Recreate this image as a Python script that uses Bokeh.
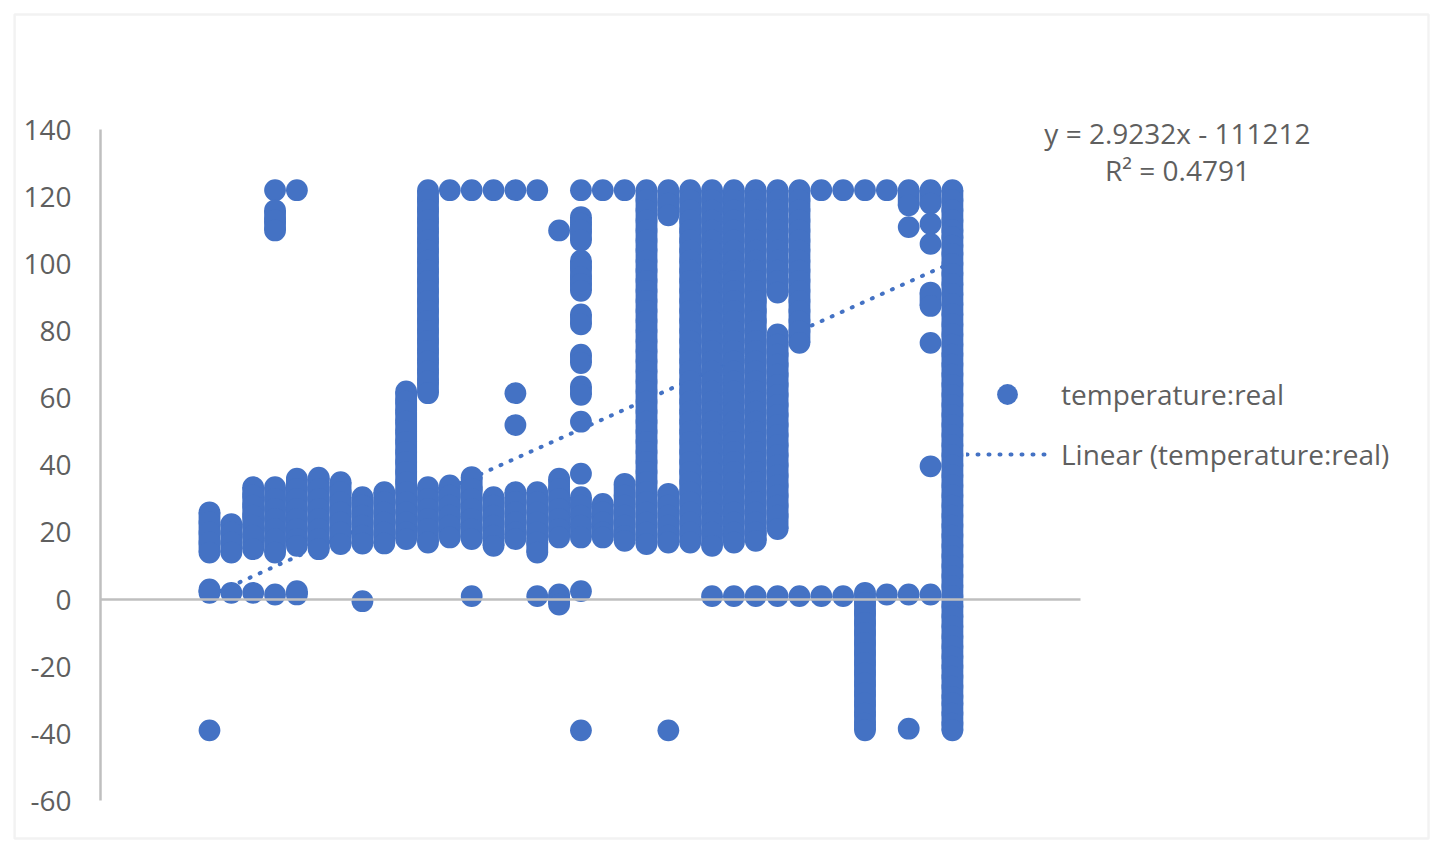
from bokeh.embed import file_html
from bokeh.resources import INLINE
from bokeh.plotting import figure
from bokeh.models import ColumnDataSource, Range1d, FixedTicker, BoxAnnotation, Label, Legend, LegendItem

FIRST_DAY = 38045
d00 = [26, 23, 20, 17, 14, 3, 2, -39]
d01 = [22.5, 20, 17, 14, 2]
d02 = [33.5, 31, 28, 25, 22, 19, 15, 2]
d03 = [122, 116, 113, 110, 33.5, 30, 27, 24, 21, 18, 14, 1.5]
d04 = [122, 36, 33, 30, 27, 24, 21, 18, 16, 2.5, 1.5]
d05 = [36.3, 33, 30, 27, 24, 21, 18, 15]
d06 = [35, 32, 29, 26, 23, 20, 16.5]
d07 = [30.5, 28, 25, 22, 19, 16.7, -0.5]
d08 = [32, 29, 26, 23, 20, 16.7]
d09 = [62, 59, 56, 53, 50, 47, 44, 41, 38, 35, 32, 29, 26, 23, 20, 18]
d10 = [122, 119, 116, 113, 110, 107, 104, 101, 98, 95, 92, 89, 86, 83, 80, 77, 74, 71, 68, 65, 61.5,
       33.5, 30, 27, 24, 21, 17]
d11 = [122, 34, 31, 28, 25, 22, 18.5]
d12 = [122, 36.5, 33, 30, 27, 24, 21, 18, 1]
d13 = [122, 30.5, 28, 25, 22, 19, 16]
d14 = [122, 61.5, 52, 32, 29, 26, 23, 20, 18]
d15 = [122, 32, 29, 26, 23, 20, 17, 14, 1]
d16 = [110, 36, 33, 30, 27, 24, 21, 18.5, 1.5, 0, -1.5]
d17 = [122, 114, 112, 110, 107, 101, 99, 96, 94, 92, 85, 82, 73, 70.5, 63.5, 61, 53, 37.5,
       30.5, 28, 25, 22, 18.5, 2.5, -39]
d18 = [122, 28.5, 26, 23, 20, 18.5]
d19 = [122, 34.5, 31, 28, 25, 22, 19, 17.5]
d20 = [122, 119, 116, 113, 110, 107, 104, 101, 98, 95, 92, 89, 86, 83, 80, 77, 74, 71, 68, 65, 62, 59,
       56, 53, 50, 47, 44, 41, 38, 35, 32, 29, 26, 23, 20, 16.5]
d21 = [122, 118, 114.5, 31.5, 28, 25, 22, 19, 17, -39]
d22 = [122, 119, 116, 113, 110, 107, 104, 101, 98, 95, 92, 89, 86, 83, 80, 77, 74, 71, 68, 65, 62, 59,
       56, 53, 50, 47, 44, 41, 38, 35, 32, 29, 26, 23, 20, 17]
d23 = [122, 119, 116, 113, 110, 107, 104, 101, 98, 95, 92, 89, 86, 83, 80, 77, 74, 71, 68, 65, 62, 59,
       56, 53, 50, 47, 44, 41, 38, 35, 32, 29, 26, 23, 20, 16, 1]
d24 = [122, 119, 116, 113, 110, 107, 104, 101, 98, 95, 92, 89, 86, 83, 80, 77, 74, 71, 68, 65, 62, 59,
       56, 53, 50, 47, 44, 41, 38, 35, 32, 29, 26, 23, 20, 17, 1]
d25 = [122, 119, 116, 113, 110, 107, 104, 101, 98, 95, 92, 89, 86, 83, 80, 77, 74, 71, 68, 65, 62, 59,
       56, 53, 50, 47, 44, 41, 38, 35, 32, 29, 26, 23, 20, 17.5, 1]
d26 = [122, 119, 116, 113, 110, 107, 104, 101, 98, 95, 91.5, 79, 76, 73, 70, 67, 64, 61, 58, 55, 52,
       49, 46, 43, 40, 37, 34, 31, 28, 25, 21, 1]
d27 = [122, 119, 116, 113, 110, 107, 104, 101, 98, 95, 92, 89, 86, 83, 80, 76.5, 1]
d28 = [122, 1]
d29 = [122, 1]
d30 = [122, 2, -1, -4, -7, -10, -13, -16, -19, -22, -25, -28, -31, -34, -37, -39]
d31 = [122, 1.5]
d32 = [122, 117.5, 111, 1.5, -38.5]
d33 = [122, 118, 112, 106, 91.5, 87.5, 76.5, 39.7, 1.5]
d34 = [122, 119, 116, 113, 110, 108, 105.5, 103, 100, 97, 94, 91, 88, 85, 82, 79, 76, 73, 70, 67, 64, 61, 58,
       55, 52, 49, 46, 43, 40, 37, 34, 31, 28, 25, 22, 19, 16, 13, 10, 7, 4, 1, -2, -5, -8, -11, -14,
       -17, -20, -23, -26, -29, -31, -34, -37, -39]

columns = [d00, d01, d02, d03, d04, d05, d06, d07, d08, d09, d10, d11, d12, d13, d14, d15, d16, d17,
           d18, d19, d20, d21, d22, d23, d24, d25, d26, d27, d28, d29, d30, d31, d32, d33, d34]

trend_x = [38045, 38079]
trend_y = [1.1, 100.5]
y_ticks = [-60, -40, -20, 0, 20, 40, 60, 80, 100, 120, 140]

BLUE = "#4472C4"
GREY = "#5f5f5f"
AXIS = "#bfbfbf"
FONT = "Open Sans"
FONT_SIZE = "28px"
MARK = 21.8

xs, ys = [], []
run_x, run_hi, run_lo = [], [], []
for i, col in enumerate(columns):
    day = FIRST_DAY + i
    for v in col:
        xs.append(day)
        ys.append(v)
    # neighbouring readings that overlap heavily are joined into one solid run
    for a, b in zip(col, col[1:]):
        if a - b <= 4.5:
            run_x.append(day)
            run_hi.append(a)
            run_lo.append(b)
src = ColumnDataSource(data=dict(x=xs, y=ys))
runs = ColumnDataSource(data=dict(x=run_x, hi=run_hi, lo=run_lo))

p = figure(width=1442, height=854, output_backend="svg", toolbar_location=None,
           x_range=Range1d(38035.435, 38101.43), y_range=Range1d(-76.0, 178.54),
           min_border=0, outline_line_color=None,
           background_fill_color="white", border_fill_color="white")
p.grid.visible = False

p.xaxis.ticker = FixedTicker(ticks=[])
p.xaxis.fixed_location = 0
p.xaxis.bounds = (38040.01, 38084.86)
p.xaxis.axis_line_color = AXIS
p.xaxis.axis_line_width = 2.5
p.xaxis.major_tick_line_color = None
p.xaxis.minor_tick_line_color = None
p.xaxis.major_label_text_color = None

p.yaxis.ticker = FixedTicker(ticks=y_ticks)
p.yaxis.fixed_location = 38040.01
p.yaxis.bounds = (-60, 140)
p.yaxis.axis_line_color = AXIS
p.yaxis.axis_line_width = 2.5
p.yaxis.major_tick_line_color = None
p.yaxis.minor_tick_line_color = None
p.yaxis.major_label_text_color = GREY
p.yaxis.major_label_text_font = FONT
p.yaxis.major_label_text_font_size = FONT_SIZE
p.yaxis.major_label_standoff = 23
p.yaxis.major_label_overrides = {t: str(t) for t in y_ticks}

p.add_layout(BoxAnnotation(left=38036.08, right=38100.79, top=174.4, bottom=-71.2,
                           fill_alpha=0, line_color="#d4d4d4", line_width=2.5, level="underlay"))

trend = p.line(trend_x, trend_y, line_color=BLUE, line_width=4, line_dash="1 10", line_cap="round")
p.segment("x", "hi", "x", "lo", source=runs, line_color=BLUE, line_width=MARK)
pts = p.scatter("x", "y", source=src, size=MARK, fill_color=BLUE, line_color=None)

p.add_layout(Label(x=38089.3, y=138.9, text="y = 2.9232x - 111212", text_align="center", text_baseline="middle",
                   text_color=GREY, text_font=FONT, text_font_size=FONT_SIZE))
p.add_layout(Label(x=38089.3, y=127.9, text="R\u00b2 = 0.4791", text_align="center", text_baseline="middle",
                   text_color=GREY, text_font=FONT, text_font_size=FONT_SIZE))

legend = Legend(items=[LegendItem(label="temperature:real", renderers=[pts]),
                       LegendItem(label="Linear (temperature:real)", renderers=[trend])],
                location=(966, 374), padding=0, margin=0, spacing=8, glyph_width=82, glyph_height=52,
                label_height=52, label_standoff=13, border_line_color=None, background_fill_alpha=0,
                label_text_color=GREY, label_text_font=FONT, label_text_font_size=FONT_SIZE,
                label_text_baseline="middle")
p.add_layout(legend, "center")

open("out.html", "w").write(file_html(p, INLINE))
